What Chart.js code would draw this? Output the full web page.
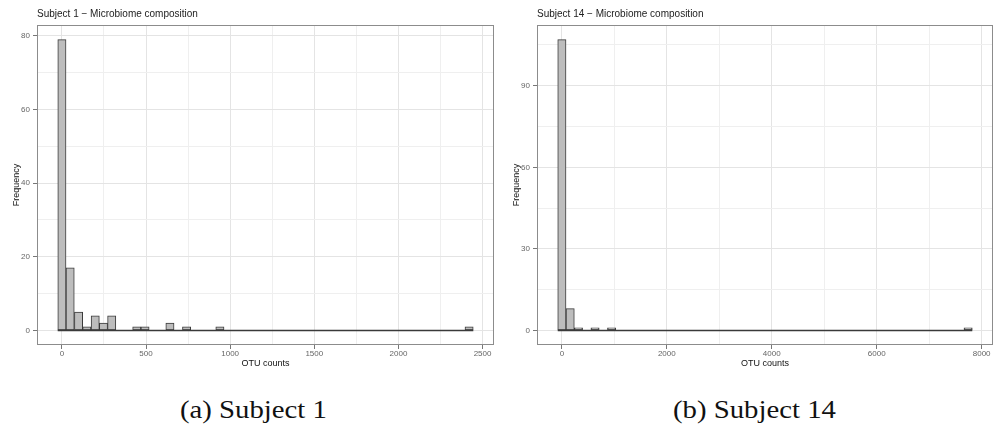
<!DOCTYPE html>
<html>
<head>
<meta charset="utf-8">
<script src="https://cdn.jsdelivr.net/npm/chart.js@4.4.1/dist/chart.umd.min.js"></script>
<style>
  body { margin: 0; background: #fff; }
  #wrap { position: relative; width: 995px; height: 435px; overflow: hidden; font-family: 'Liberation Sans', Arial, sans-serif; }
  canvas { position: absolute; top: 0; }
  .title { position: absolute; top: 8px; font-size: 10px; line-height: 12px; color: #222; white-space: nowrap; }
  .caption { position: absolute; top: 396px; font-family: 'Liberation Serif', serif; font-size: 25px; line-height: 28px; color: #111; white-space: nowrap; transform: scaleX(1.15); transform-origin: left top; }
</style>
</head>
<body>
<div id="wrap">
  <canvas id="left" width="500" height="369" style="left:0"></canvas>
  <canvas id="right" width="495" height="369" style="left:500px"></canvas>
  <div class="title" style="left:37px">Subject 1 − Microbiome composition</div>
  <div class="title" style="left:537px">Subject 14 − Microbiome composition</div>
  <div class="caption" style="left:180px">(a) Subject 1</div>
  <div class="caption" style="left:673px">(b) Subject 14</div>
</div>
<script>
// Subject 1: non-empty histogram bins (bin centre, count)
const s1Centers = [0, 49, 99, 148, 198, 247, 296, 445, 494, 642, 741, 939, 2420];
const s1Counts = [79, 17, 5, 1, 4, 2, 4, 1, 1, 2, 1, 1, 1];
const s1Span = [-25, 2445]; // outer edges of the binned range, empty bins are flat
const s1XMajor = [0, 500, 1000, 1500, 2000, 2500];
const s1XMinor = [250, 750, 1250, 1750, 2250];
const s1YMajor = [0, 20, 40, 60, 80];
const s1YMinor = [10, 30, 50, 70];

// Subject 14
const s14Centers = [0, 158, 316, 632, 948, 7742];
const s14Counts = [107, 8, 1, 1, 1, 1];
const s14Span = [-79, 7821];
const s14XMajor = [0, 2000, 4000, 6000, 8000];
const s14XMinor = [1000, 3000, 5000, 7000];
const s14YMajor = [0, 30, 60, 90];
const s14YMinor = [15, 45, 75, 105];

// box around the plot area, like theme_bw
const panelBorder = {
  id: 'panelBorder',
  afterDraw(chart) {
    const { ctx, chartArea: a } = chart;
    ctx.save();
    ctx.strokeStyle = '#8c8c8c';
    ctx.lineWidth = 1;
    ctx.strokeRect(a.left + 0.5, a.top + 0.5, a.right - a.left - 1, a.bottom - a.top - 1);
    ctx.restore();
  }
};

function axis(major, minor, lim) {
  const isMajor = c => c.tick && major.includes(c.tick.value);
  return {
    type: 'linear',
    min: lim[0],
    max: lim[1],
    offset: false,
    afterBuildTicks: s => {
      s.ticks = major.concat(minor).sort((a, b) => a - b).map(v => ({ value: v }));
    },
    ticks: {
      autoSkip: false,
      maxRotation: 0,
      color: '#666',
      font: { size: 8 },
      callback: v => (major.includes(v) ? String(v) : '')
    },
    grid: {
      offset: false,
      color: c => (isMajor(c) ? '#e4e4e4' : '#efefef'),
      lineWidth: 1,
      tickLength: 4,
      tickWidth: 1,
      tickColor: c => (isMajor(c) ? '#777' : 'rgba(0,0,0,0)')
    },
    border: { display: false }
  };
}

function makeChart(id, centers, counts, span, xMajor, xMinor, yMajor, yMinor, xLim, yLim, padRight) {
  const x = axis(xMajor, xMinor, xLim);
  x.afterFit = s => { s.height = 24; };
  x.ticks.padding = 0;
  x.title = { display: true, text: 'OTU counts', color: '#111', font: { size: 9 }, padding: 0 };

  const y = axis(yMajor, yMinor, yLim);
  y.afterFit = s => { s.width = 37; };
  y.ticks.padding = 3;
  y.title = { display: true, text: 'Frequency', color: '#111', font: { size: 9 }, padding: { top: 11, bottom: 0 } };

  return new Chart(document.getElementById(id), {
    type: 'bar',
    data: {
      datasets: [
        {
          type: 'line',
          data: span.map(v => ({ x: v, y: 0 })),
          borderColor: '#3a3a3a',
          borderWidth: 1.5,
          pointRadius: 0,
          order: 0
        },
        {
          data: centers.map((c, i) => ({ x: c, y: counts[i] })),
          backgroundColor: '#bdbdbd',
          borderColor: '#3a3a3a',
          borderWidth: 1,
          borderSkipped: false,
          barPercentage: 1,
          categoryPercentage: 1,
          grouped: false,
          order: 1
        }
      ]
    },
    options: {
      responsive: false,
      devicePixelRatio: 1,
      animation: false,
      layout: { padding: { top: 25, right: padRight, left: 0, bottom: 0 } },
      plugins: { legend: { display: false }, tooltip: { enabled: false } },
      scales: { x: x, y: y }
    },
    plugins: [panelBorder]
  });
}

Chart.defaults.font.family = "'Liberation Sans', Arial, sans-serif";

makeChart('left', s1Centers, s1Counts, s1Span, s1XMajor, s1XMinor, s1YMajor, s1YMinor,
  [-148, 2568], [-3.95, 82.95], 6);
makeChart('right', s14Centers, s14Counts, s14Span, s14XMajor, s14XMinor, s14YMajor, s14YMinor,
  [-474, 8216], [-5.35, 112.35], 2);
</script>
</body>
</html>
